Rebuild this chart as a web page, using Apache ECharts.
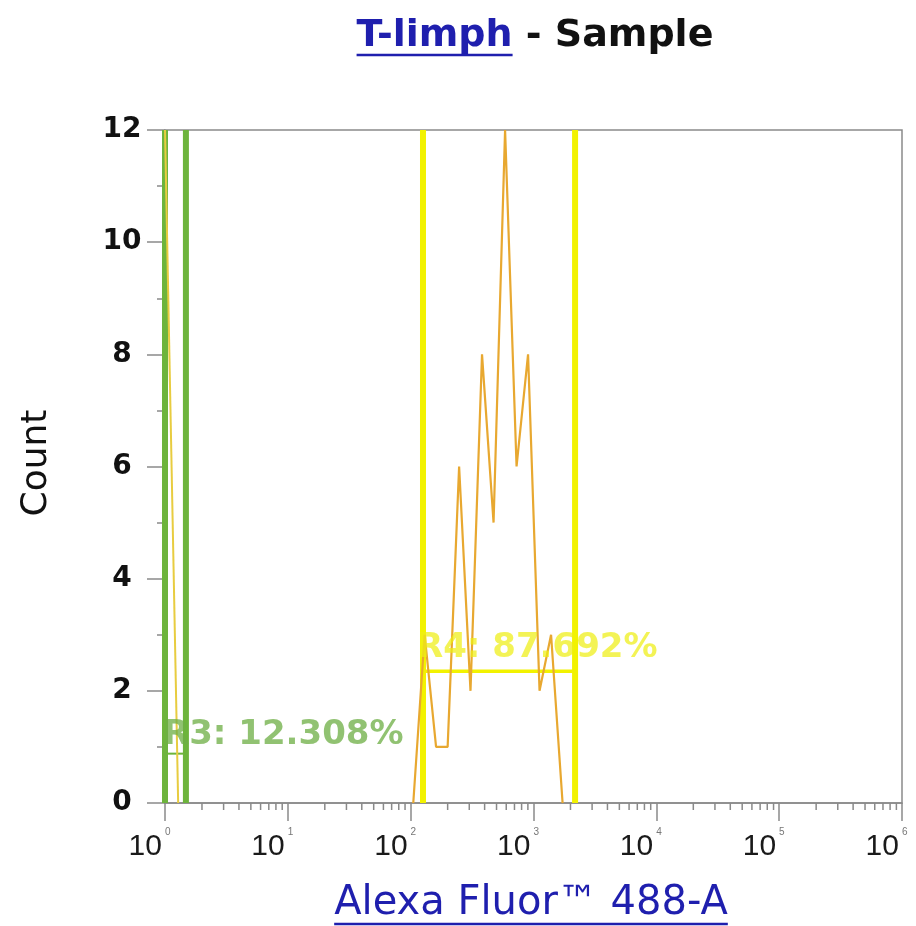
<!DOCTYPE html>
<html>
<head>
<meta charset="utf-8">
<script src="https://cdn.jsdelivr.net/npm/echarts@6/dist/echarts.min.js"></script>
<style>html,body{margin:0;padding:0;background:#fff;}#c{width:916px;height:926px;}</style>
</head>
<body>
<div id="c"></div>
<script>
// ---- data ----
const titleBlue = 'T-limph';
const titleRest = ' - Sample';
const xAxisTitle = 'Alexa Fluor\u2122 488-A';
const yAxisTitle = 'Count';
// histogram inside R3 (left)
const histLeftX = [1, 1.28];
const histLeftY = [12, 0];
// histogram inside R4 (right)
const histRightX = [105, 130, 161, 200, 248, 307, 381, 473, 587, 728, 903, 1120, 1390, 1725];
const histRightY = [0, 3, 1, 1, 6, 2, 8, 5, 12, 6, 8, 2, 3, 0];
// gates
const gateR3 = [1, 1.48];
const gateR3Level = 0.88;
const gateR3Label = 'R3: 12.308%';
const gateR3LabelY = 1.21;
const gateR4 = [126, 2180];
const gateR4Level = 2.35;
const gateR4Label = 'R4: 87.692%';
const gateR4LabelY = 2.76;
// axes
const xMin = 1, xMax = 1e6;
const yMin = 0, yMax = 12, yStep = 2;
const xMinorTicks = [];
for (let k = 0; k < 6; k++) for (let m = 2; m <= 9; m++) xMinorTicks.push(m * Math.pow(10, k));

// ---- layout / style ----
const gridL = 165, gridR = 14, gridT = 130, gridB = 123;
const axisGrey = '#8a8a8a';
const green = '#6db43c';
const yellow = '#f2f200';
const orange = '#e8a830';
const blue = '#1f1fae';

const chart = echarts.init(document.getElementById('c'), null, {renderer: 'canvas'});

const ctx = document.createElement('canvas').getContext('2d');
function tw(text, font) { ctx.font = font; return ctx.measureText(text).width; }

const titleFont = 'bold 38px "DejaVu Sans"';
const wBlue = tw(titleBlue, titleFont), wRest = tw(titleRest, titleFont);
const titleCx = 535, titleBase = 47;
const tStart = titleCx - (wBlue + wRest) / 2;

const xnFont = '40px "DejaVu Sans"';
const wXn = tw(xAxisTitle, xnFont);
const xnCx = 531, xnBase = 915;

function vline(x, color, width) {
  return {
    type: 'line', data: [[x, yMin], [x, yMax]], symbol: 'none', silent: true,
    lineStyle: {color: color, width: width}, z: 3, animation: false
  };
}
function hline(xs, y, color, width) {
  return {
    type: 'line', data: [[xs[0], y], [xs[1], y]], symbol: 'none', silent: true,
    lineStyle: {color: color, width: width}, z: 3, animation: false
  };
}

const option = {
  animation: false,
  backgroundColor: '#fff',
  grid: {left: gridL, right: gridR, top: gridT, bottom: gridB, show: true, borderColor: axisGrey, borderWidth: 1.5, containLabel: false},
  xAxis: {
    type: 'log', logBase: 10, min: xMin, max: xMax, splitNumber: 6,
    axisLine: {show: true, lineStyle: {color: axisGrey, width: 1.5}},
    axisTick: {show: true, length: 18, lineStyle: {color: axisGrey, width: 1.5}},
    splitLine: {show: false},
    axisLabel: {
      margin: 24,
      formatter: function (v) { return '{b|10}{s|' + Math.round(Math.log10(v)) + '}'; },
      rich: {
        b: {fontFamily: '"Liberation Sans"', fontSize: 30, color: '#1a1a1a', padding: [0, 3, 0, 0], verticalAlign: 'bottom'},
        s: {fontFamily: '"Liberation Sans"', fontSize: 10, color: '#777', padding: [0, 31, 25, 0], verticalAlign: 'bottom'}
      }
    }
  },
  yAxis: {
    type: 'value', min: yMin, max: yMax, interval: yStep,
    axisLine: {show: true, lineStyle: {color: axisGrey, width: 1.5}},
    axisTick: {show: true, length: 18, lineStyle: {color: axisGrey, width: 1.5}},
    minorTick: {show: true, splitNumber: 2, length: 8, lineStyle: {color: axisGrey, width: 1.5}},
    splitLine: {show: false},
    axisLabel: {margin: 43, align: 'center', fontFamily: '"DejaVu Sans"', fontWeight: 'bold', fontSize: 28, color: '#111'}
  },
  series: [
    {
      type: 'custom', silent: true, clip: false, z: 1,
      data: xMinorTicks.map(v => [v, 0]),
      renderItem: function (params, api) {
        const p = api.coord([api.value(0), 0]);
        return {type: 'line', shape: {x1: p[0], y1: p[1], x2: p[0], y2: p[1] + 7},
          style: {stroke: axisGrey, lineWidth: 1.5}};
      }
    },
    vline(gateR3[0], green, 6),
    vline(gateR3[1], green, 6),
    hline(gateR3, gateR3Level, green, 2),
    vline(gateR4[0], yellow, 6),
    vline(gateR4[1], yellow, 6),
    hline(gateR4, gateR4Level, yellow, 3.5),
    {
      type: 'line', data: histLeftX.map((x, i) => [x, histLeftY[i]]), symbol: 'none',
      lineStyle: {color: '#e8cc40', width: 2}, z: 4, silent: true
    },
    {
      type: 'line', data: histRightX.map((x, i) => [x, histRightY[i]]), symbol: 'none',
      lineStyle: {color: orange, width: 2.2}, z: 4, silent: true
    },
    {
      type: 'scatter', symbolSize: 0, silent: true, z: 5,
      data: [[gateR3[0], gateR3LabelY]],
      label: {show: true, position: 'right', distance: -2, formatter: gateR3Label,
        fontFamily: '"DejaVu Sans"', fontWeight: 'bold', fontSize: 34, color: 'rgba(110,175,70,0.95)'}
    },
    {
      type: 'scatter', symbolSize: 0, silent: true, z: 5,
      data: [[gateR4[0], gateR4LabelY]],
      label: {show: true, position: 'right', distance: -6, formatter: gateR4Label,
        fontFamily: '"DejaVu Sans"', fontWeight: 'bold', fontSize: 34, color: 'rgba(238,238,20,0.9)'}
    }
  ],
  graphic: [
    {type: 'text', x: tStart, y: titleBase + 8, style: {text: titleBlue, font: titleFont, fill: blue, verticalAlign: 'bottom'}},
    {type: 'text', x: tStart + wBlue, y: titleBase + 8, style: {text: titleRest, font: titleFont, fill: '#111', verticalAlign: 'bottom'}},
    {type: 'line', shape: {x1: tStart, y1: titleBase + 8, x2: tStart + wBlue, y2: titleBase + 8}, style: {stroke: blue, lineWidth: 2.5}},
    {type: 'text', x: xnCx - wXn / 2, y: xnBase + 9, style: {text: xAxisTitle, font: xnFont, fill: blue, verticalAlign: 'bottom'}},
    {type: 'line', shape: {x1: xnCx - wXn / 2, y1: xnBase + 9, x2: xnCx + wXn / 2, y2: xnBase + 9}, style: {stroke: blue, lineWidth: 2.5}},
    {type: 'text', x: 37, y: 463, rotation: Math.PI / 2, style: {text: yAxisTitle, font: '36px "DejaVu Sans"', fill: '#111', align: 'center', verticalAlign: 'middle'}}
  ]
};
chart.setOption(option);
</script>
</body>
</html>
